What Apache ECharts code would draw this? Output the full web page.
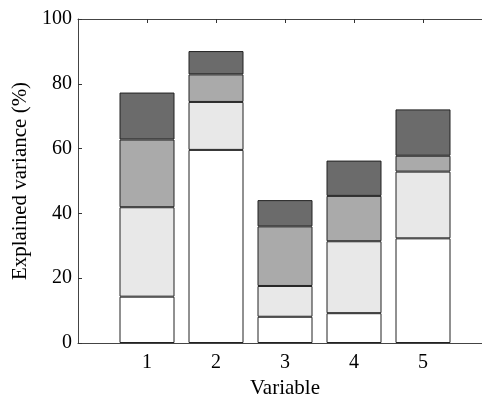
<!DOCTYPE html>
<html>
<head>
<meta charset="utf-8">
<script src="https://cdn.jsdelivr.net/npm/echarts@6/dist/echarts.min.js"></script>
<style>html,body{margin:0;padding:0;background:#fff;}#c{width:482px;height:394px;}</style>
</head>
<body>
<div id="c"></div>
<script>
// axis positions 0..6, bars at 1..5 (0 and 6 are empty slots)
var positions = ['0', '1', '2', '3', '4', '5', '6'];
var categories = ['1', '2', '3', '4', '5'];
var seg1 = [14.3, 59.6, 8.1, 9.2, 32.3];
var seg2 = [27.6, 14.8, 9.5, 22.2, 20.6];
var seg3 = [20.9, 8.5, 18.4, 14.0, 4.9];
var seg4 = [14.5, 7.2, 8.1, 10.9, 14.3];
var yTicks = [0, 20, 40, 60, 80, 100];

var colors = ['#ffffff', '#e8e8e8', '#aaaaaa', '#6b6b6b'];
var segs = [seg1, seg2, seg3, seg4];
var font = 'Liberation Serif';

function isCat(v) { return categories.indexOf(String(v)) >= 0; }

var chart = echarts.init(document.getElementById('c'), null, {renderer: 'canvas'});
var series = segs.map(function (s, i) {
  return {
    type: 'bar',
    stack: 'total',
    barWidth: 55,
    xAxisIndex: 0,
    itemStyle: {color: colors[i], borderColor: '#222', borderWidth: 1},
    data: positions.map(function (p) {
      var k = categories.indexOf(p);
      return k >= 0 ? s[k] : '-';
    })
  };
});

chart.setOption({
  animation: false,
  backgroundColor: '#ffffff',
  grid: {left: 78, top: 19, width: 414, height: 324, containLabel: false, outerBoundsMode: 'none'},
  xAxis: [{
    type: 'category', data: positions, boundaryGap: false, position: 'bottom',
    name: 'Variable', nameLocation: 'middle', nameGap: 30,
    nameTextStyle: {fontFamily: font, fontSize: 21, color: '#000'},
    axisLine: {show: true, lineStyle: {color: '#444', width: 1}},
    axisTick: {show: false},
    splitLine: {show: false},
    axisLabel: {
      margin: 10, fontFamily: font, fontSize: 20, color: '#000', interval: 0,
      formatter: function (v) { return isCat(v) ? v : ''; }
    }
  }, {
    type: 'category', data: positions, boundaryGap: false, position: 'top',
    axisLine: {show: true, lineStyle: {color: '#444', width: 1}},
    axisTick: {show: true, inside: true, length: 4, lineStyle: {color: '#333'},
      interval: function (idx, v) { return isCat(v); }},
    axisLabel: {show: false},
    splitLine: {show: false}
  }],
  yAxis: [{
    type: 'value', min: 0, max: 100, interval: 20,
    name: 'Explained variance (%)', nameLocation: 'middle', nameGap: 40,
    nameTextStyle: {fontFamily: font, fontSize: 21, color: '#000'},
    axisLine: {show: true, lineStyle: {color: '#444', width: 1}},
    axisTick: {show: true, inside: true, length: 4, lineStyle: {color: '#333'}},
    splitLine: {show: false},
    axisLabel: {
      margin: 6, fontFamily: font, fontSize: 20, color: '#000',
      formatter: function (v) { return yTicks.indexOf(v) >= 0 ? String(v) : ''; }
    }
  }],
  series: series
});
</script>
</body>
</html>
